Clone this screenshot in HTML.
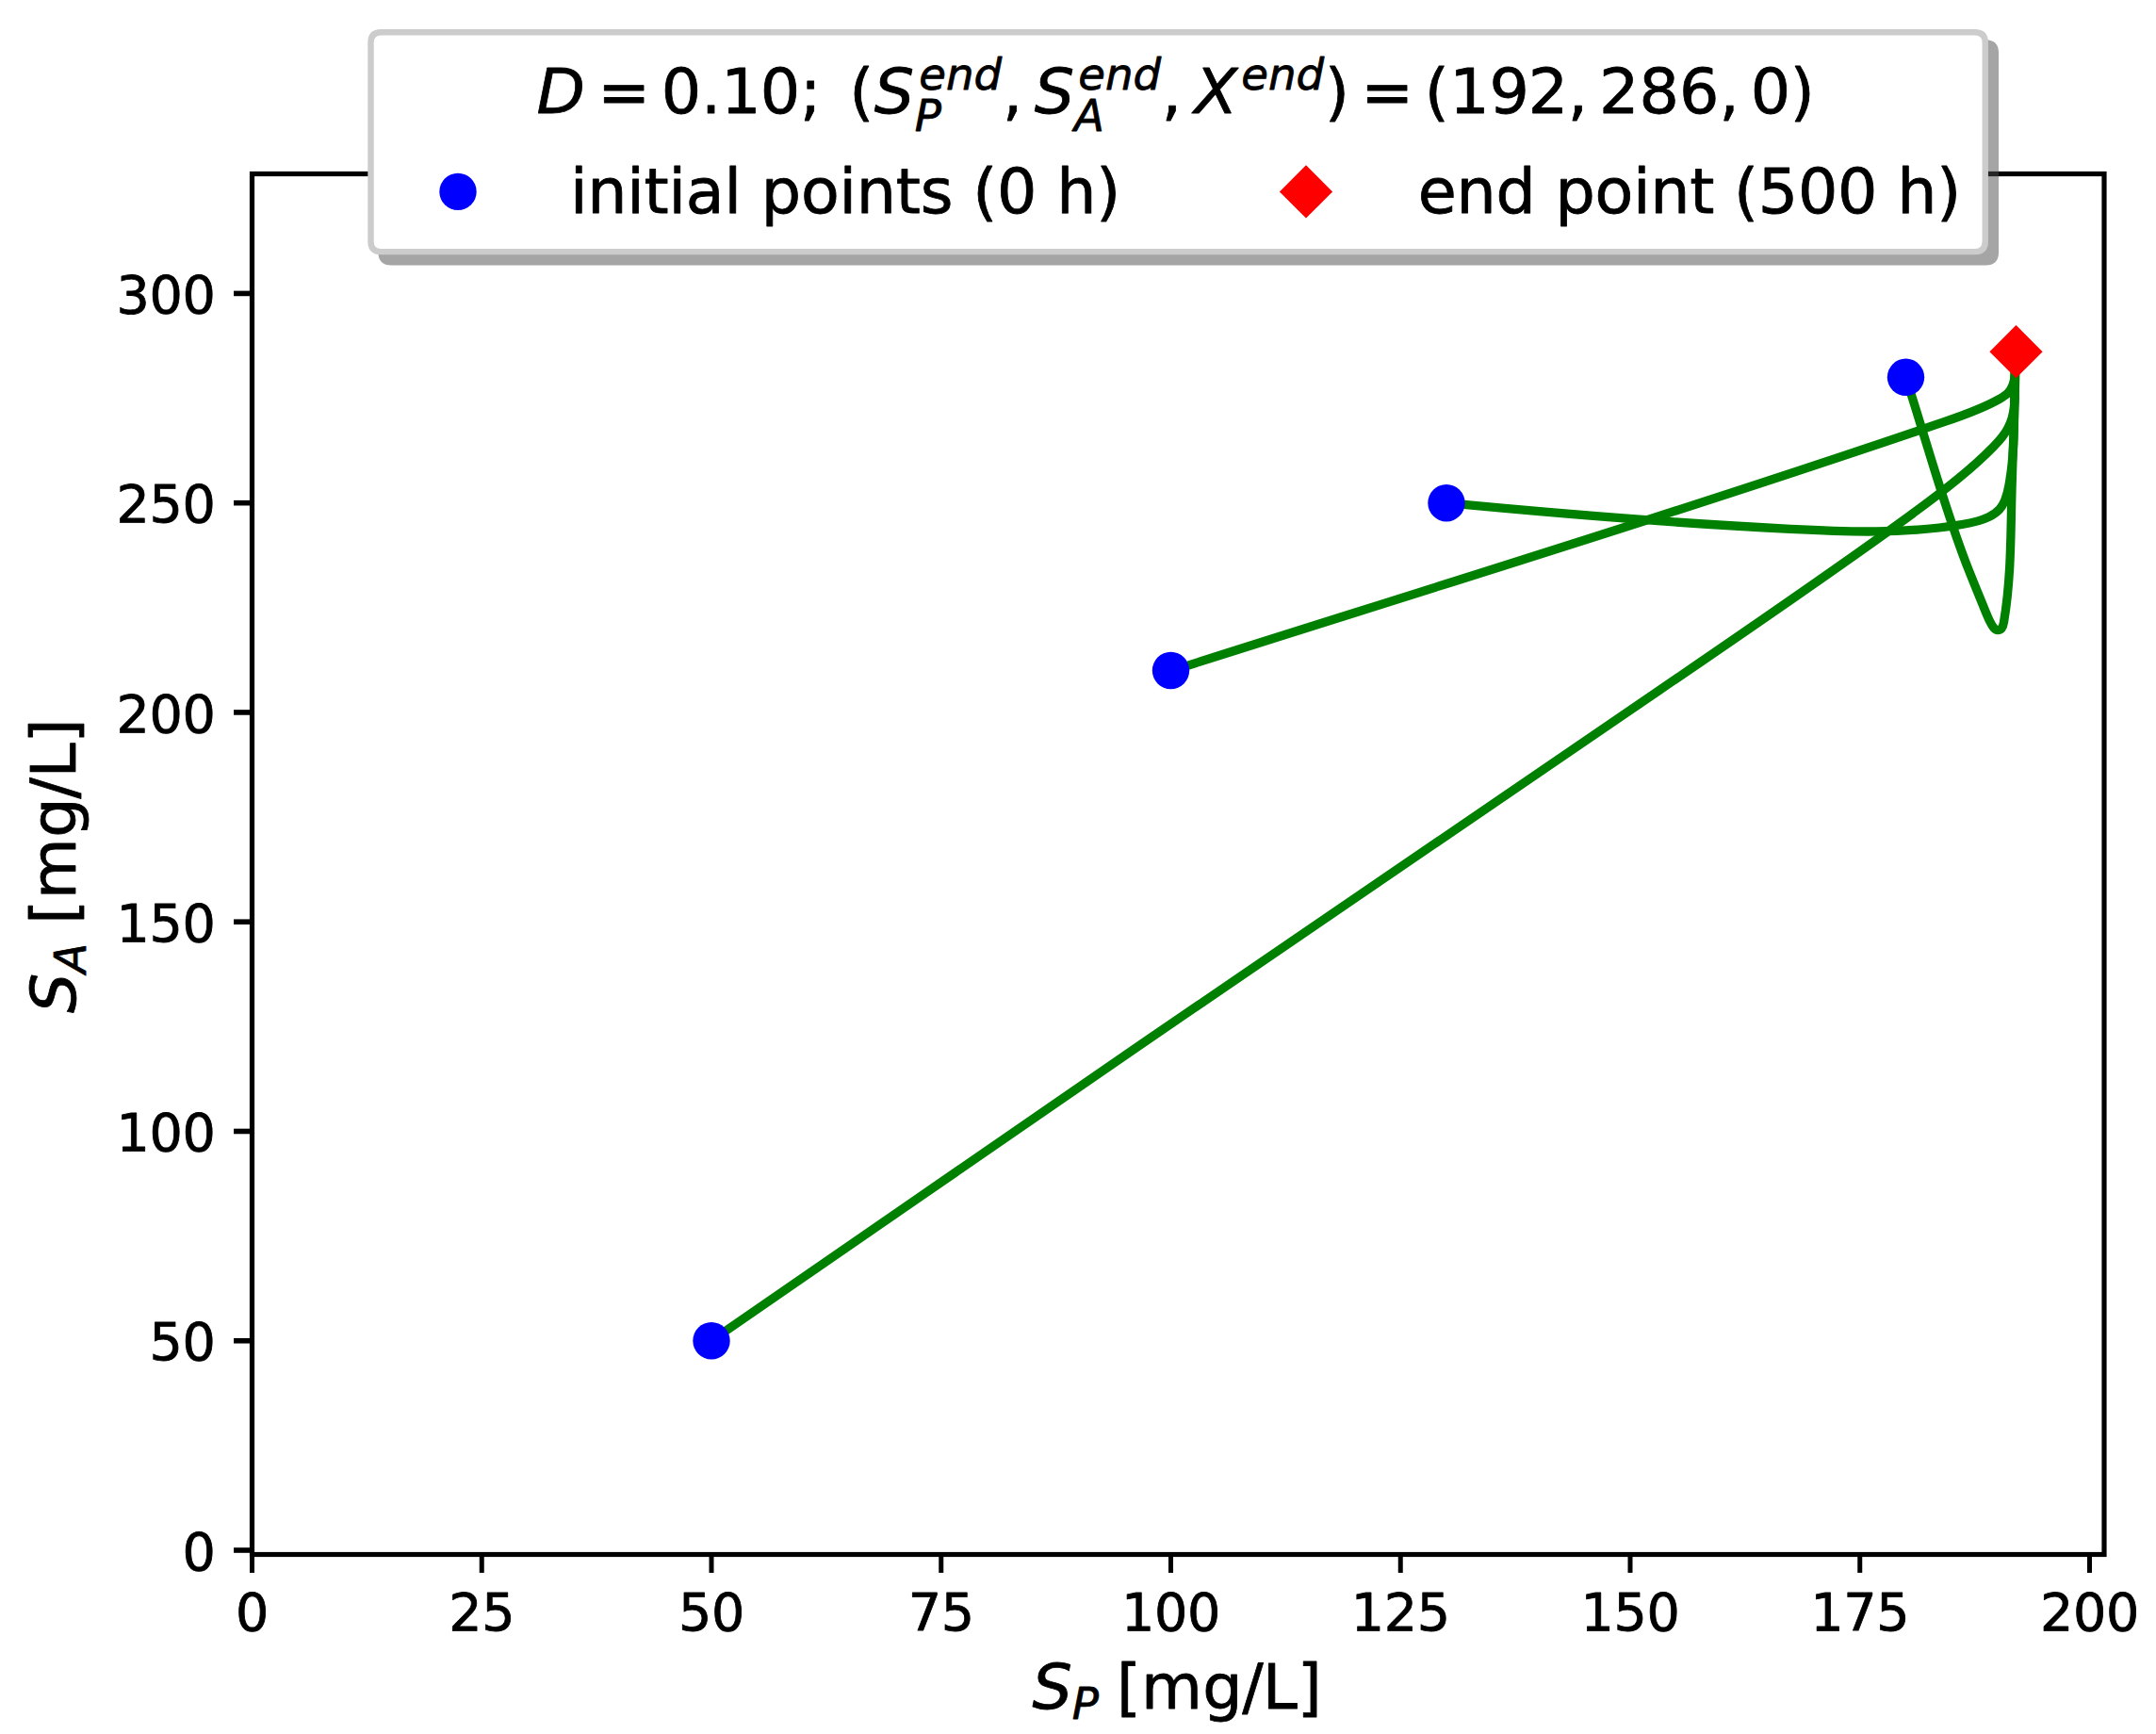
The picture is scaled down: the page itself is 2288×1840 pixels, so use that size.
<!DOCTYPE html>
<html lang="en"><head><meta charset="utf-8"><title>Phase plot D=0.10</title>
<style>html,body{margin:0;padding:0;background:#fff}svg{display:block}text{font-family:'DejaVu Sans','Liberation Sans',sans-serif;fill:#000;stroke:#000;stroke-width:0.8px;stroke-linejoin:round}.ob{font-style:oblique}</style></head><body>
<svg width="2288" height="1840" viewBox="0 0 2288 1840">
<rect x="0" y="0" width="2288" height="1840" fill="#fff"/>
<g fill="none" stroke="#008000" stroke-width="9.3" stroke-linejoin="miter" stroke-linecap="butt">
<path d="M754.97 1422.66 C1088.62 1190.76 1424.30 962.15 1759.97 733.13 C1844.18 675.67 1928.39 618.19 2010.99 558.63 C2032.85 542.87 2054.60 526.96 2075.59 509.89 C2089.57 498.52 2103.21 486.64 2115.79 473.71 C2118.95 470.46 2122.03 467.16 2124.76 463.63 C2129.46 457.54 2133.10 450.78 2135.22 443.44 C2137.56 435.32 2138.06 426.50 2138.12 417.71 C2138.23 403.49 2137.21 389.38 2139.32 376.03"/>
<path d="M1242.61 711.87 C1516.76 624.79 1791.60 540.38 2063.90 447.47 C2083.57 440.76 2103.22 434.01 2121.47 423.67 C2125.03 421.65 2128.55 419.49 2131.19 416.64 C2135.48 412.00 2137.48 405.54 2138.20 398.74 C2139.03 390.99 2138.21 382.81 2139.27 376.03"/>
<path d="M1535.00 533.73 C1656.43 545.33 1778.15 555.24 1900.03 561.44 C1960.75 564.53 2021.52 566.70 2082.12 556.51 C2091.85 554.88 2101.57 552.92 2110.41 548.59 C2114.85 546.42 2119.06 543.64 2122.21 540.11 C2127.88 533.74 2130.05 524.94 2131.73 516.12 C2140.57 469.63 2135.77 422.64 2139.46 376.02"/>
<path d="M2022.42 400.31 C2043.98 466.19 2061.53 533.11 2086.50 597.87 C2092.75 614.06 2099.46 630.12 2105.87 645.89 C2107.76 650.55 2109.63 655.18 2112.03 660.06 C2113.07 662.17 2114.21 664.33 2115.76 666.03 C2117.03 667.42 2118.58 668.49 2120.20 668.53 C2121.72 668.56 2123.31 667.67 2124.34 666.42 C2125.70 664.78 2126.11 662.53 2126.49 660.27 C2133.88 616.81 2133.78 573.46 2134.75 530.02 C2135.89 478.71 2138.54 427.27 2139.15 376.01"/>
</g>
<g fill="#0000ff">
<circle cx="755.00" cy="1422.74" r="19.7"/>
<circle cx="1242.50" cy="711.49" r="19.7"/>
<circle cx="1535.00" cy="533.68" r="19.7"/>
<circle cx="2022.50" cy="400.32" r="19.7"/>
</g>
<path d="M2139.50 345.10 L2167.60 373.20 L2139.50 401.30 L2111.40 373.20 Z" fill="#ff0000"/>
<g stroke="#000" stroke-width="5.0" fill="none">
<path d="M267.50 1649.50 V1668.94"/>
<path d="M511.25 1649.50 V1668.94"/>
<path d="M755.00 1649.50 V1668.94"/>
<path d="M998.75 1649.50 V1668.94"/>
<path d="M1242.50 1649.50 V1668.94"/>
<path d="M1486.25 1649.50 V1668.94"/>
<path d="M1730.00 1649.50 V1668.94"/>
<path d="M1973.75 1649.50 V1668.94"/>
<path d="M2217.50 1649.50 V1668.94"/>
<path stroke-width="5.6" d="M267.50 1645.00 H248.06"/>
<path stroke-width="5.6" d="M267.50 1422.74 H248.06"/>
<path stroke-width="5.6" d="M267.50 1200.47 H248.06"/>
<path stroke-width="5.6" d="M267.50 978.21 H248.06"/>
<path stroke-width="5.6" d="M267.50 755.94 H248.06"/>
<path stroke-width="5.6" d="M267.50 533.68 H248.06"/>
<path stroke-width="5.6" d="M267.50 311.41 H248.06"/>
</g>
<rect x="267.50" y="184.50" width="1965.50" height="1465.00" fill="none" stroke="#000" stroke-width="5.2"/>
<g font-size="55.56" text-anchor="middle" letter-spacing="-0.3">
<text x="267.50" y="1729.5">0</text>
<text x="511.25" y="1729.5">25</text>
<text x="755.00" y="1729.5">50</text>
<text x="998.75" y="1729.5">75</text>
<text x="1242.50" y="1729.5">100</text>
<text x="1486.25" y="1729.5">125</text>
<text x="1730.00" y="1729.5">150</text>
<text x="1973.75" y="1729.5">175</text>
<text x="2217.50" y="1729.5">200</text>
</g>
<g font-size="55.56" text-anchor="end" letter-spacing="-0.3">
<text x="228.6" y="1665.60">0</text>
<text x="228.6" y="1443.34">50</text>
<text x="228.6" y="1221.07">100</text>
<text x="228.6" y="998.81">150</text>
<text x="228.6" y="776.54">200</text>
<text x="228.6" y="554.28">250</text>
<text x="228.6" y="332.01">300</text>
</g>
<text transform="translate(1094.00 1817.90)" font-size="66.67"><tspan class="ob" x="1.50" y="-4.86">S</tspan><tspan class="ob" font-size="46.67" x="43.82" y="6.08">P</tspan><tspan x="71.28 91.07 117.08 182.22 224.14 245.70 282.84" y="-4.86"> [mg/L]</tspan></text>
<text transform="translate(85.00 1075.00) rotate(-90)" font-size="66.67"><tspan class="ob" x="0.00" y="-4.86">S</tspan><tspan class="ob" font-size="46.67" x="42.32" y="6.08">A</tspan><tspan x="75.06 94.26 120.76 186.21 227.52 249.49 286.63" y="-4.86"> [mg/L]</tspan></text>
<path d="M415.41 45.41 H2107.06 Q2117.86 45.41 2117.86 56.21 V267.41 Q2117.86 278.21 2107.06 278.21 H415.41 Q404.61 278.21 404.61 267.41 V56.21 Q404.61 45.41 415.41 45.41 Z" fill="#4d4d4d" stroke="#4d4d4d" stroke-width="6.4" opacity="0.5"/>
<path d="M404.30 34.30 H2095.95 Q2106.75 34.30 2106.75 45.10 V256.30 Q2106.75 267.10 2095.95 267.10 H404.30 Q393.50 267.10 393.50 256.30 V45.10 Q393.50 34.30 404.30 34.30 Z" fill="#fff" stroke="#cccccc" stroke-width="6.4"/>
<text transform="translate(570.00 120.40)" font-size="66.67"><tspan class="ob" x="-0.5" y="-0.10">D</tspan><tspan x="64.3 131.7 174.1 195.3 236.7 279.1 331.3" y="-0.10">=0.10;(</tspan><tspan class="ob" x="357.7" y="-0.10">S</tspan><tspan class="ob" font-size="46.67" x="400.7" y="18.12">P</tspan><tspan class="ob" font-size="46.67" x="405.2 433.9 463.5" y="-25.62">end</tspan><tspan x="493.9" y="-0.10">,</tspan><tspan class="ob" x="527.8" y="-0.10">S</tspan><tspan class="ob" font-size="46.67" x="570.1" y="18.12">A</tspan><tspan class="ob" font-size="46.67" x="574.3 603.0 632.5" y="-25.62">end</tspan><tspan x="662.8" y="-0.10">,</tspan><tspan class="ob" x="697.5" y="-0.10">X</tspan><tspan class="ob" font-size="46.67" x="747.2 775.9 805.5" y="-25.62">end</tspan><tspan x="835.9 874.3 941.7 968.2 1010.6 1051.7 1093.8 1127.1 1169.6 1212.0 1254.4 1287.7 1329.8" y="-0.10">)=(192,286,0)</tspan></text>
<circle cx="486" cy="203.4" r="19.7" fill="#0000ff"/>
<path d="M1386.00 175.30 L1414.10 203.40 L1386.00 231.50 L1357.90 203.40 Z" fill="#ff0000"/>
<text x="604.9" y="226.4" font-size="66.67" letter-spacing="-0.2">initial points (0 h)</text>
<text x="1504.7" y="226.4" font-size="66.67" letter-spacing="-0.26">end point (500 h)</text>
</svg></body></html>
